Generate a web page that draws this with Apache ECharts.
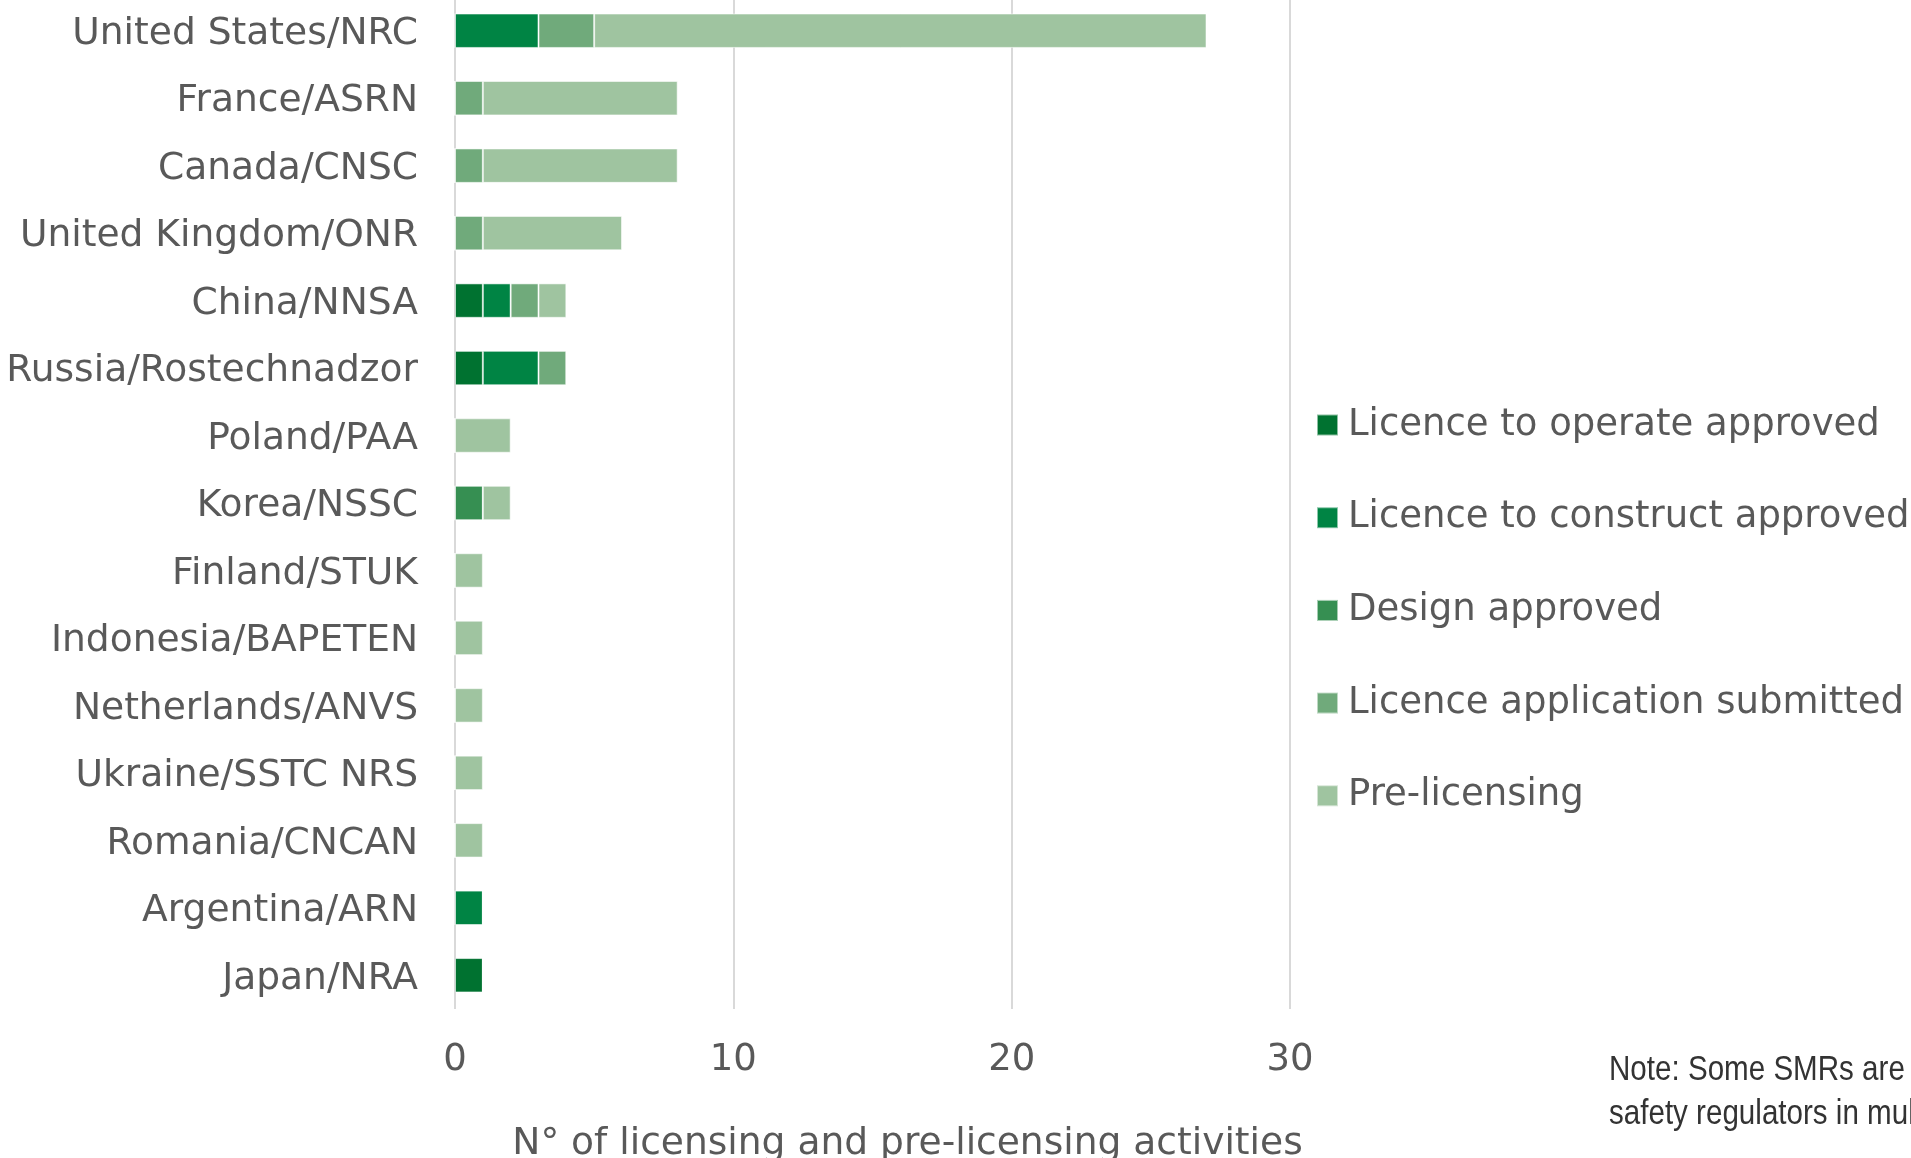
<!DOCTYPE html>
<html>
<head>
<meta charset="utf-8">
<script src="https://cdn.jsdelivr.net/npm/echarts@6/dist/echarts.min.js"></script>
<style>html,body{margin:0;padding:0;background:#fff;}#c{width:1911px;height:1158px;}</style>
</head>
<body>
<div id="c"></div>
<script>
const categories = ["United States/NRC","France/ASRN","Canada/CNSC","United Kingdom/ONR","China/NNSA","Russia/Rostechnadzor","Poland/PAA","Korea/NSSC","Finland/STUK","Indonesia/BAPETEN","Netherlands/ANVS","Ukraine/SSTC NRS","Romania/CNCAN","Argentina/ARN","Japan/NRA"];
const seriesNames = ["Licence to operate approved","Licence to construct approved","Design approved","Licence application submitted","Pre-licensing"];
const operateApproved   = [0,0,0,0,1,1,0,0,0,0,0,0,0,0,1];
const constructApproved = [3,0,0,0,1,2,0,0,0,0,0,0,0,1,0];
const designApproved    = [0,0,0,0,0,0,0,1,0,0,0,0,0,0,0];
const applicationSubmitted = [2,1,1,1,1,1,0,0,0,0,0,0,0,0,0];
const preLicensing      = [22,7,7,5,1,0,2,1,1,1,1,1,1,0,0];
const xTicks = [0,10,20,30];
const colors = ["#007230","#008444","#368F52","#70AA7B","#9FC4A0"];
const seriesData = [operateApproved, constructApproved, designApproved, applicationSubmitted, preLicensing];

const chart = echarts.init(document.getElementById('c'), null, {renderer:'canvas'});
const font = "'DejaVu Sans', Verdana, sans-serif";
chart.setOption({
  animation:false,
  backgroundColor:'#fff',
  grid:{left:455, right:621, top:-3, bottom:149, containLabel:false, outerBoundsMode:'none'},
  legend:{
    orient:'vertical', left:1311, top:400,
    itemWidth:21, itemHeight:21, itemGap:52.7, icon:'rect',
    textStyle:{fontFamily:font, fontSize:37, color:'#595959', lineHeight:40, padding:[0,0,0,5]},
    data:seriesNames
  },
  xAxis:{
    type:'value', min:xTicks[0], max:xTicks[xTicks.length-1], interval:10,
    axisLine:{show:false}, axisTick:{show:false},
    splitLine:{show:true, lineStyle:{color:'#d9d9d9', width:2}},
    axisLabel:{fontFamily:font, fontSize:37, color:'#595959', margin:33},
    name:'N° of licensing and pre-licensing activities',
    nameLocation:'middle', nameGap:116,
    nameTextStyle:{fontFamily:font, fontSize:37.6, color:'#595959', padding:[0,0,0,70]}
  },
  yAxis:{
    type:'category', data:categories, inverse:true,
    axisLine:{show:false}, axisTick:{show:false},
    axisLabel:{
      margin:37,
      formatter: v => '{c|' + v + '}',
      rich:{c:{fontFamily:font, fontSize:37.6, color:'#595959', lineHeight:44, padding:[7,0,0,0]}}
    }
  },
  series: seriesNames.map((n,i)=>({
    name:n, type:'bar', stack:'total', data:seriesData[i],
    barCategoryGap:'49%',
    itemStyle:{color:colors[i], borderColor:'rgba(255,255,255,0.55)', borderWidth:1}
  })),
  graphic:[
    {type:'text', x:1609, y:1048, scaleX:0.845, scaleY:1,
     style:{text:'Note: Some SMRs are being reviewed by\nsafety regulators in multiple countries.', fontFamily:"'Liberation Sans', Arial, sans-serif", fontSize:35, lineHeight:44, fill:'#333333', verticalAlign:'top'}}
  ]
});
</script>
</body>
</html>
